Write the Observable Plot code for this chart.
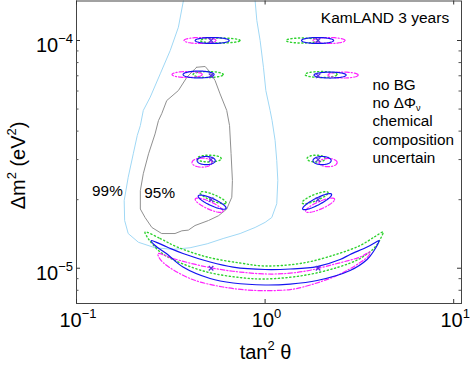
<!DOCTYPE html>
<html><head><meta charset="utf-8">
<script src="https://cdn.jsdelivr.net/npm/d3@7"></script>
<script src="https://cdn.jsdelivr.net/npm/@observablehq/plot@0.6"></script>
<style>body{margin:0;background:#fff}</style>
</head><body><div id="chart"></div>
<script>
// ---------- data (tan^2 theta, Delta m^2 in eV^2) ----------
const xMajor = [0.1, 1, 10];
const xTickLabels = ["10^{−1}", "10^{0}", "10^{1}"];
const yMajor = [1e-5, 1e-4];
const yTickLabels = ["10^{−5}", "10^{−4}"];
const yMinor = [8e-6, 9e-6, 2e-5, 3e-5, 4e-5, 5e-5, 6e-5, 7e-5, 8e-5, 9e-5];

// 99% C.L. contour (light blue), open at the top of the frame
const contour99 = [[0.381,1.658e-4],[0.369,1.499e-4],[0.347,1.144e-4],[0.314,9.04e-5],[0.278,7.14e-5],[0.246,5.64e-5],[0.226,4.93e-5],[0.218,4.23e-5],[0.210,3.83e-5],[0.200,3.18e-5],[0.188,2.51e-5],[0.179,1.98e-5],[0.180,1.62e-5],[0.188,1.42e-5],[0.213,1.30e-5],[0.261,1.23e-5],[0.325,1.21e-5],[0.400,1.23e-5],[0.493,1.28e-5],[0.599,1.35e-5],[0.737,1.42e-5],[0.885,1.51e-5],[1.0,1.59e-5],[1.085,1.67e-5],[1.153,1.92e-5],[1.168,2.43e-5],[1.153,2.97e-5],[1.130,3.64e-5],[1.089,4.45e-5],[1.063,4.93e-5],[1.009,6.03e-5],[0.980,7.63e-5],[0.941,1e-4],[0.904,1.224e-4],[0.885,1.499e-4],[0.874,1.658e-4]];
// 95% C.L. contour (gray), closed
const contour95 = [[0.434,7.63e-5],[0.481,7.69e-5],[0.511,7.26e-5],[0.543,6.67e-5],[0.577,5.83e-5],[0.626,4.93e-5],[0.648,4.23e-5],[0.660,3.19e-5],[0.671,2.43e-5],[0.666,2.05e-5],[0.626,1.82e-5],[0.566,1.70e-5],[0.501,1.62e-5],[0.425,1.54e-5],[0.392,1.47e-5],[0.362,1.46e-5],[0.333,1.42e-5],[0.283,1.42e-5],[0.251,1.51e-5],[0.231,1.67e-5],[0.218,1.82e-5],[0.218,2.19e-5],[0.226,2.60e-5],[0.241,3.18e-5],[0.261,3.89e-5],[0.272,4.45e-5],[0.283,4.77e-5],[0.301,5.45e-5],[0.347,6.03e-5],[0.385,6.90e-5],[0.425,7.51e-5],[0.434,7.63e-5]];

// banana-shaped regions around dm2 = 1e-5
const blueBanana = [[0.249,1.323e-5],[0.302,1.239e-5],[0.367,1.160e-5],[0.511,1.065e-5],[0.677,1.012e-5],[1.0,0.987e-5],[1.357,0.992e-5],[1.887,1.017e-5],[2.498,1.092e-5],[2.823,1.149e-5],[3.474,1.239e-5],[3.877,1.303e-5],[4.022,1.323e-5],[3.973,1.284e-5],[3.784,1.196e-5],[3.474,1.092e-5],[2.823,0.977e-5],[1.887,0.883e-5],[1.357,0.852e-5],[1.0,0.844e-5],[0.677,0.861e-5],[0.511,0.901e-5],[0.367,1.012e-5],[0.302,1.154e-5],[0.261,1.258e-5]];
const magentaBanana = [[0.271,1.160e-5],[0.325,1.103e-5],[0.493,1.012e-5],[0.737,0.962e-5],[1.103,0.943e-5],[1.590,0.967e-5],[2.409,1.049e-5],[3.189,1.120e-5],[3.603,1.178e-5],[3.517,1.126e-5],[3.189,1.059e-5],[2.409,0.929e-5],[1.590,0.827e-5],[1.357,0.806e-5],[0.907,0.798e-5],[0.599,0.827e-5],[0.400,0.901e-5],[0.288,1.059e-5],[0.271,1.137e-5]];
const greenBanana = [[0.231,1.442e-5],[0.278,1.350e-5],[0.342,1.239e-5],[0.493,1.120e-5],[0.737,1.054e-5],[1.0,1.023e-5],[1.590,1.054e-5],[2.409,1.154e-5],[3.189,1.258e-5],[3.830,1.378e-5],[4.224,1.442e-5],[4.122,1.364e-5],[3.830,1.239e-5],[3.189,1.103e-5],[2.409,1.007e-5],[1.590,0.929e-5],[1.0,0.897e-5],[0.737,0.910e-5],[0.493,0.962e-5],[0.333,1.081e-5],[0.278,1.178e-5],[0.240,1.350e-5]];

// small ellipses: [center tan2, center dm2, half-width (decades), half-height (decades), tilt (decades)]
const blueEllipses = [[0.524,1.00e-4,0.090,0.013,0],[1.898,1.00e-4,0.085,0.013,0],[0.444,7.09e-5,0.082,0.015,0],[2.211,7.05e-5,0.085,0.013,0],[0.487,2.97e-5,0.048,0.018,0],[2.005,2.97e-5,0.048,0.018,0],[0.524,1.95e-5,0.074,0.017,-0.026],[1.887,1.96e-5,0.077,0.017,0.031]];
const magentaEllipses = [[0.452,1.00e-4,0.085,0.013,0],[2.184,1.00e-4,0.085,0.013,0],[0.386,7.09e-5,0.080,0.013,0],[2.592,7.05e-5,0.080,0.013,0],[0.463,2.91e-5,0.053,0.020,0],[2.158,2.91e-5,0.048,0.018,0],[0.505,1.89e-5,0.074,0.018,-0.026],[1.957,1.89e-5,0.077,0.018,0.026]];
const greenEllipses = [[0.577,1.00e-4,0.106,0.011,0],[1.571,1.00e-4,0.085,0.011,0],[0.499,7.09e-5,0.080,0.013,0],[1.981,7.09e-5,0.085,0.013,0],[0.505,3.03e-5,0.064,0.015,0],[1.864,3.03e-5,0.048,0.015,0],[0.530,2.04e-5,0.069,0.015,-0.022],[1.841,2.04e-5,0.069,0.015,0.022]];

// true points (crosses)
const trueTan2 = [0.517, 1.91];
const trueDm2 = [1e-4, 7e-5, 3e-5, 2e-5, 1e-5];

// texts
const titleText = ["KamLAND 3 years"]; const titleX = [1.974]; const titleY = [1.188e-4];
const noteLines = ["no BG", "no ΔΦ_{ν}", "chemical", "composition", "uncertain"];
const noteX = 3.706; const noteY = [6.07e-5, 5.05e-5, 4.20e-5, 3.48e-5, 2.90e-5];
const clLabels = ["99%", "95%"]; const clX = [0.121, 0.229]; const clY = [2.086e-5, 2.044e-5];
const xLabel = "tan^{2} θ";
const yLabel = "Δm^{2} (eV^{2})";

// ---------- build ----------
const W = 471, H = 366, mL = 76, mR = 10, mT = 0.5, mB = 63;
const plotW = W - mL - mR, plotH = H - mT - mB;
const toPts = (arr, id) => arr.map(([x, y]) => ({x, y, id}));
function ellipsePts(list, tag) {
  const out = [];
  list.forEach((e, i) => {
    const [cx, cy, wx, wy, tilt] = e;
    const lx = Math.log10(cx), ly = Math.log10(cy);
    for (let k = 0; k <= 72; k++) {
      const t = 2 * Math.PI * k / 72;
      out.push({id: tag + i, x: 10 ** (lx + wx * Math.cos(t)), y: 10 ** (ly + wy * Math.sin(t) + tilt * Math.cos(t))});
    }
  });
  return out;
}
const crosses = trueDm2.flatMap(y => trueTan2.map(x => ({x, y})));
const BLUE = "#1414f0", MAG = "#ff22ff", GRN = "#2fd22f";
const font = "Liberation Sans, Arial, Helvetica, sans-serif";

const chart = Plot.plot({
  width: W, height: H, marginLeft: mL, marginRight: mR, marginTop: mT, marginBottom: mB,
  x: {type: "log", domain: [0.1, 11.0], axis: null},
  y: {type: "log", domain: [7.0e-6, 1.491e-4], axis: null},
  style: {fontFamily: font, background: "white", overflow: "visible"},
  marks: [
    Plot.line(toPts(contour99, "c99"), {x: "x", y: "y", stroke: "#a0d8f5", strokeWidth: 1, clip: true}),
    Plot.line(toPts(contour95, "c95"), {x: "x", y: "y", stroke: "#909090", strokeWidth: 1}),
    Plot.line(toPts(greenBanana, "gb"), {x: "x", y: "y", curve: "catmull-rom-closed", stroke: GRN, strokeWidth: 1.4, strokeDasharray: "1.2,2.6"}),
    Plot.line(toPts(magentaBanana, "mb"), {x: "x", y: "y", curve: "catmull-rom-closed", stroke: MAG, strokeWidth: 1.2, strokeDasharray: "4.5,2,1.2,2"}),
    Plot.line(toPts(blueBanana, "bb"), {x: "x", y: "y", curve: "catmull-rom-closed", stroke: BLUE, strokeWidth: 1.2}),
    Plot.line(ellipsePts(greenEllipses, "ge"), {x: "x", y: "y", z: "id", stroke: GRN, strokeWidth: 1.4, strokeDasharray: "1.2,2.6"}),
    Plot.line(ellipsePts(magentaEllipses, "me"), {x: "x", y: "y", z: "id", stroke: MAG, strokeWidth: 1.2, strokeDasharray: "4.5,2,1.2,2"}),
    Plot.line(ellipsePts(blueEllipses, "be"), {x: "x", y: "y", z: "id", stroke: BLUE, strokeWidth: 1.2}),
    Plot.dot(crosses, {x: "x", y: "y", symbol: "times", r: 2.2, stroke: "#5a2de0", strokeWidth: 1.2}),
    Plot.frame({stroke: "#444", strokeWidth: 1}),
    // inward ticks
    Plot.ruleX(xMajor, {insetTop: plotH - 4, stroke: "#333"}),
    Plot.ruleX(xMajor, {insetBottom: plotH - 4, stroke: "#333"}),
    Plot.ruleY(yMajor, {insetRight: plotW - 4, stroke: "#333"}),
    Plot.ruleY(yMajor, {insetLeft: plotW - 4, stroke: "#333"}),
    Plot.ruleY(yMinor, {insetRight: plotW - 2.5, stroke: "#555"}),
    Plot.ruleY(yMinor, {insetLeft: plotW - 2.5, stroke: "#555"}),
    // tick labels
    Plot.text(xMajor.map((v, i) => ({v, t: xTickLabels[i]})), {x: "v", text: "t", frameAnchor: "bottom", lineAnchor: "bottom", textAnchor: "middle", dy: 23, dx: 1.5, fontSize: 20, fill: "black"}),
    Plot.text(yMajor.map((v, i) => ({v, t: yTickLabels[i]})), {y: "v", text: "t", frameAnchor: "left", lineAnchor: "bottom", textAnchor: "end", dx: -3.5, dy: 11.5, fontSize: 20, fill: "black"}),
    // axis labels
    Plot.text([xLabel], {text: d => d, frameAnchor: "bottom", lineAnchor: "bottom", textAnchor: "middle", dx: -3.5, dy: 55.3, fontSize: 20, fill: "black"}),
    Plot.text([yLabel], {text: d => d, frameAnchor: "left", lineAnchor: "bottom", textAnchor: "middle", rotate: -90, dx: -51.5, dy: 13.2, fontSize: 20, fill: "black"}),
    // annotations
    Plot.text(titleText, {x: (d, i) => titleX[i], y: (d, i) => titleY[i], text: d => d, textAnchor: "start", lineAnchor: "bottom", fontSize: 15.5, fill: "black"}),
    Plot.text(noteLines, {x: () => noteX, y: (d, i) => noteY[i], text: d => d, textAnchor: "start", lineAnchor: "bottom", fontSize: 15.3, fill: "black"}),
    Plot.text(clLabels, {x: (d, i) => clX[i], y: (d, i) => clY[i], text: d => d, textAnchor: "start", lineAnchor: "bottom", fontSize: 15.3, fill: "black"})
  ]
});
document.getElementById("chart").appendChild(chart);

// turn ^{..} / _{..} markup into super/subscript tspans
chart.querySelectorAll("text").forEach(t => {
  const s = t.textContent;
  if (!/[\^_]\{/.test(s)) return;
  const fs = parseFloat(getComputedStyle(t).fontSize) || 16;
  t.textContent = "";
  const re = /([\^_])\{([^}]*)\}|([^\^_]+)/g;
  let m, shift = 0;
  while ((m = re.exec(s))) {
    const ts = document.createElementNS("http://www.w3.org/2000/svg", "tspan");
    let target = 0;
    if (m[1] === "^") { target = -0.45 * fs; ts.setAttribute("font-size", (0.65 * fs).toFixed(1)); ts.textContent = m[2]; }
    else if (m[1] === "_") { target = 0.2 * fs; ts.setAttribute("font-size", (0.6 * fs).toFixed(1)); ts.textContent = m[2]; }
    else { ts.textContent = m[3]; }
    const dy = target - shift;
    if (Math.abs(dy) > 1e-6) ts.setAttribute("dy", dy.toFixed(2));
    shift = target;
    t.appendChild(ts);
  }
});
</script></body></html>
